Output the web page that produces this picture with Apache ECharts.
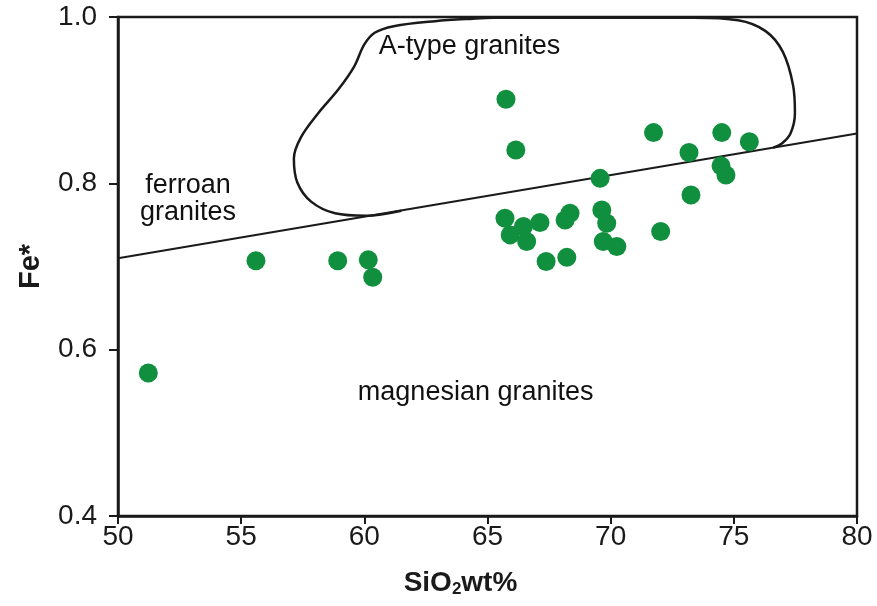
<!DOCTYPE html>
<html>
<head>
<meta charset="utf-8">
<script src="https://cdn.jsdelivr.net/npm/echarts@6/dist/echarts.min.js"></script>
<style>
  html, body { margin: 0; padding: 0; background: #fff; }
  #chart { width: 877px; height: 606px; }
</style>
</head>
<body>
<div id="chart"></div>
<script>
// Whole-rock SiO2 (wt%) and Fe* = FeOt/(FeOt+MgO) of the granite samples
const sio2 = [51.23, 55.60, 58.92, 60.16, 60.34, 65.75, 66.15, 69.57, 71.74, 74.51,
              75.63, 73.18, 74.48, 74.68, 73.26, 72.03, 65.71, 65.92, 66.46, 67.13,
              66.59, 68.35, 68.15, 69.64, 69.84, 69.70, 70.25, 67.38, 68.22];
const feStar = [0.572, 0.707, 0.707, 0.708, 0.687, 0.901, 0.840, 0.806, 0.861, 0.861,
                0.850, 0.837, 0.821, 0.810, 0.786, 0.742, 0.758, 0.738, 0.748, 0.753,
                0.730, 0.764, 0.756, 0.768, 0.752, 0.730, 0.724, 0.706, 0.711];

// Ferroan / magnesian divide (end points at SiO2 = 50 and 80)
const dividerX = [50, 80];
const dividerY = [0.71, 0.86];

// Outline of the A-type granite field
const aTypeX = [61.5, 60.07, 58.81, 57.84, 57.28, 57.14, 57.42, 58.12, 58.95, 59.58,
                60.00, 60.42, 61.19, 62.87, 64.41, 65.25, 73.35, 75.17, 76.29, 76.99,
                77.41, 77.48, 77.30, 76.95, 76.60];
const aTypeY = [0.767, 0.761, 0.764, 0.778, 0.801, 0.830, 0.855, 0.884, 0.913, 0.940,
                0.967, 0.981, 0.989, 0.995, 0.998, 0.999, 0.999, 0.996, 0.983, 0.958,
                0.917, 0.884, 0.860, 0.848, 0.843];

// Field names and where they sit
const fieldNames = ['A-type granites', 'ferroan\ngranites', 'magnesian granites'];
const fieldX = [64.29, 52.86, 64.54];
const fieldY = [0.964, 0.781, 0.548];

// Axis ticks
const xTicks = [50, 55, 60, 65, 70, 75, 80];
const yTicks = [0.4, 0.6, 0.8, 1.0];

const FONT = '"Liberation Sans", Arial, Helvetica, sans-serif';
const INK = '#1a1a1a';

const chart = echarts.init(document.getElementById('chart'), null, { renderer: 'canvas' });

chart.setOption({
  animation: false,
  backgroundColor: '#ffffff',
  grid: {
    left: 118, right: 20, top: 17, bottom: 90,
    show: true, borderColor: INK, borderWidth: 2.5, backgroundColor: 'transparent'
  },
  xAxis: {
    type: 'value',
    min: xTicks[0], max: xTicks[xTicks.length - 1], interval: 5,
    name: 'SiO{sub|2}wt%',
    nameLocation: 'middle', nameGap: 53,
    nameTextStyle: {
      fontFamily: FONT, fontSize: 28, fontWeight: 'bold', color: INK,
      padding: [0, 54, 0, 0],
      rich: { sub: { fontFamily: FONT, fontSize: 17, fontWeight: 'bold', color: INK, padding: [12, 0, 0, 0] } }
    },
    axisLine: { show: true, onZero: false, lineStyle: { color: INK, width: 2.5 } },
    axisTick: { show: true, inside: false, length: 8, lineStyle: { color: INK, width: 2 } },
    axisLabel: { fontFamily: FONT, fontSize: 28, color: INK, margin: 7 },
    splitLine: { show: false }
  },
  yAxis: {
    type: 'value',
    min: yTicks[0], max: yTicks[yTicks.length - 1], interval: 0.2,
    name: 'Fe*',
    nameLocation: 'middle', nameGap: 73,
    nameTextStyle: { fontFamily: FONT, fontSize: 29, fontWeight: 'bold', color: INK },
    axisLine: { show: true, onZero: false, lineStyle: { color: INK, width: 2.5 } },
    axisTick: { show: true, inside: false, length: 9, lineStyle: { color: INK, width: 2 } },
    axisLabel: {
      fontFamily: FONT, fontSize: 28, color: INK, margin: 21,
      formatter: v => v.toFixed(1)
    },
    splitLine: { show: false }
  },
  series: [
    {
      name: 'divider',
      type: 'line',
      data: dividerX.map((x, i) => [x, dividerY[i]]),
      showSymbol: false,
      lineStyle: { color: INK, width: 2 },
      silent: true, z: 2
    },
    {
      name: 'A-type field',
      type: 'line',
      data: aTypeX.map((x, i) => [x, aTypeY[i]]),
      smooth: 0.35,
      showSymbol: false,
      lineStyle: { color: INK, width: 2.5 },
      silent: true, z: 2
    },
    {
      name: 'samples',
      type: 'scatter',
      data: sio2.map((x, i) => [x, feStar[i]]),
      symbol: 'circle',
      symbolSize: 19,
      itemStyle: { color: '#10903e', opacity: 1 },
      z: 3
    },
    {
      name: 'field names',
      type: 'scatter',
      data: fieldX.map((x, i) => ({ value: [x, fieldY[i]], name: fieldNames[i] })),
      symbolSize: 1,
      itemStyle: { color: 'rgba(0,0,0,0)' },
      label: {
        show: true, position: [0, 0],
        align: 'center', verticalAlign: 'middle',
        formatter: p => p.name,
        fontFamily: FONT, fontSize: 27, color: '#111111', opacity: 1,
        textBorderWidth: 0, lineHeight: 27
      },
      silent: true, z: 4
    }
  ]
});
</script>
</body>
</html>
